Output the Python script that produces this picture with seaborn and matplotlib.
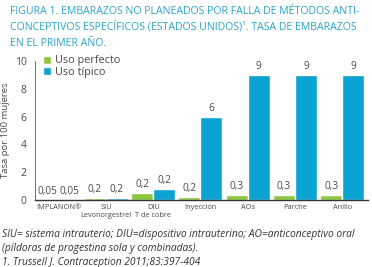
import matplotlib
matplotlib.use("Agg")
import matplotlib.pyplot as plt
import seaborn as sns
import pandas as pd

categories = ["IMPLANON®", "SIU\nLevonorgestrel", "DIU\nT de cobre",
              "Inyección", "AOs", "Parche", "Anillo"]
series = ["Uso perfecto", "Uso típico"]
perfecto = [0.05, 0.15, 0.5, 0.2, 0.35, 0.35, 0.35]
tipico = [0.05, 0.15, 0.8, 6, 9, 9, 9]
labels_perfecto = ["0,05", "0,2", "0,2", "0,2", "0,3", "0,3", "0,3"]
labels_tipico = ["0,05", "0,2", "0,2", "6", "9", "9", "9"]

GREEN = "#8dc63f"
BLUE = "#0ba3d1"
TITLE_C = "#2aa3c9"
TEXT_C = "#4a4a4a"

df = pd.DataFrame({
    "metodo": categories * 2,
    "uso": [series[0]] * len(categories) + [series[1]] * len(categories),
    "tasa": perfecto + tipico,
})

sns.set_style("white")
plt.rcParams['font.family'] = ['Open Sans', 'DejaVu Sans']

fig = plt.figure(figsize=(3.72, 2.67), dpi=100)
ax = fig.add_axes([0.094, 0.251, 0.896, 0.521])

sns.barplot(data=df, x="metodo", y="tasa", hue="uso", palette=[GREEN, BLUE],
            width=0.93, gap=0, saturation=1, ax=ax, errorbar=None)

for cont, labs in zip(ax.containers, [labels_perfecto, labels_tipico]):
    ax.bar_label(cont, labels=labs, padding=2, fontsize=7.2, color=TEXT_C)

ax.set_ylim(0, 10)
ax.set_xlim(-0.5, 6.55)
ax.set_yticks([0, 2, 4, 6, 8, 10])
ax.tick_params(axis='y', labelsize=7.5, colors=TEXT_C, length=2, pad=4)
ax.tick_params(axis='x', labelsize=5.3, colors=TEXT_C, length=0, pad=3)
ax.set_xlabel("")
ax.set_ylabel("Tasa por 100 mujeres", fontsize=6.8, color=TEXT_C, labelpad=2)
ax.yaxis.set_label_coords(-0.075, 0.5)
for s in ["top", "right"]:
    ax.spines[s].set_visible(False)
ax.spines["left"].set_color("#555555")
ax.spines["left"].set_linewidth(0.6)
ax.spines["bottom"].set_color("#333333")
ax.spines["bottom"].set_linewidth(1.0)

leg = ax.legend(loc="upper left", bbox_to_anchor=(0.01, 1.07), frameon=False,
                fontsize=7.8, handlelength=0.8, handleheight=0.8,
                handletextpad=0.3, labelspacing=0.05, borderaxespad=0)
for t in leg.get_texts():
    t.set_color(TEXT_C)

title_lines = [
    "FIGURA 1. EMBARAZOS NO PLANEADOS POR FALLA DE MÉTODOS ANTI-",
    "CONCEPTIVOS ESPECÍFICOS (ESTADOS UNIDOS)¹. TASA DE EMBARAZOS",
    "EN EL PRIMER AÑO.",
]
for i, line in enumerate(title_lines):
    fig.text(0.027, 1 - (11 + 16 * i) / 267, line, fontsize=7.6, color=TITLE_C,
             va="center", ha="left")

notes = [
    "SIU= sistema intrauterio; DIU=dispositivo intrauterino; AO=anticonceptivo oral",
    "(píldoras de progestina sola y combinadas).",
    "1. Trussell J. Contraception 2011;83:397-404",
]
for i, line in enumerate(notes):
    fig.text(0.005, 1 - (234 + 14 * i) / 267, line, fontsize=7.4, color="#333333",
             style="italic", va="center", ha="left")

fig.savefig("out.png", dpi=100)
